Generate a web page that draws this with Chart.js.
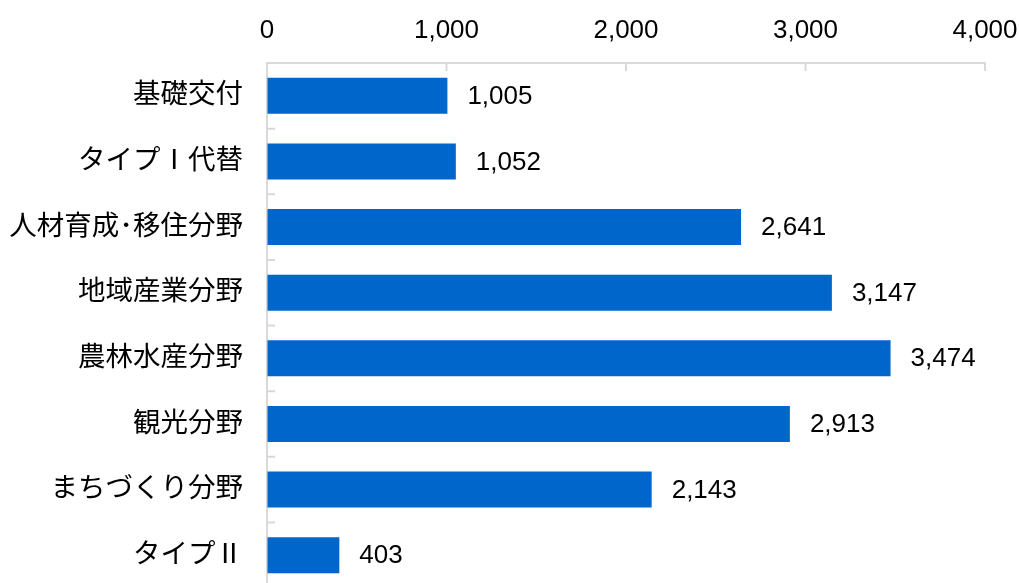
<!DOCTYPE html>
<html>
<head>
<meta charset="utf-8">
<script src="https://cdn.jsdelivr.net/npm/chart.js@4.4.1/dist/chart.umd.min.js"></script>
<style>
  html, body { margin: 0; padding: 0; background: #fff; overflow: hidden; }
  canvas { display: block; }
</style>
</head>
<body>
<canvas id="c" width="1019" height="588" style="width:1019px;height:588px"></canvas>
<script>
const categories = ["基礎交付", "タイプⅠ代替", "人材育成･移住分野", "地域産業分野", "農林水産分野", "観光分野", "まちづくり分野", "タイプⅡ"];
const values = [1005, 1052, 2641, 3147, 3474, 2913, 2143, 403];
const xTickMin = 0, xTickMax = 4000, xTickStep = 1000;

const FONT = '"Liberation Sans", Arial, "Noto Sans CJK JP", sans-serif';
const AXIS_COLOR = '#D9D9D9';
const fmt = v => v.toLocaleString('en-US');

const innerTicks = {
  id: 'innerTicks',
  afterDraw(chart) {
    const ctx = chart.ctx;
    const x = chart.scales.x, y = chart.scales.y;
    const area = chart.chartArea;
    ctx.save();
    ctx.strokeStyle = AXIS_COLOR;
    ctx.lineWidth = 2;
    ctx.beginPath();
    x.ticks.forEach((t, i) => {
      if (t.value === xTickMin) return;
      const px = x.getPixelForTick(i);
      ctx.moveTo(px, area.top);
      ctx.lineTo(px, area.top + 8);
    });
    const step = y.getPixelForValue(1) - y.getPixelForValue(0);
    for (let i = 0; i < categories.length; i++) {
      const py = y.getPixelForValue(i) + step / 2;
      ctx.moveTo(area.left, py);
      ctx.lineTo(area.left + 8, py);
    }
    ctx.stroke();
    ctx.fillStyle = '#000';
    ctx.font = '26px ' + FONT;
    ctx.textAlign = 'left';
    ctx.textBaseline = 'middle';
    const meta = chart.getDatasetMeta(0);
    meta.data.forEach((bar, i) => {
      ctx.fillText(fmt(values[i]), bar.x + 20, bar.y + 1);
    });
    ctx.restore();
  }
};

new Chart(document.getElementById('c'), {
  type: 'bar',
  data: {
    labels: categories,
    datasets: [{
      data: values,
      backgroundColor: '#0066CC',
      borderWidth: 0,
      categoryPercentage: 1,
      barPercentage: 0.55
    }]
  },
  options: {
    indexAxis: 'y',
    responsive: false,
    animation: false,
    layout: { padding: { left: 0, right: 34, top: 0, bottom: 0 } },
    plugins: { legend: { display: false }, tooltip: { enabled: false } },
    scales: {
      x: {
        position: 'top',
        min: xTickMin,
        max: xTickMax,
        ticks: {
          stepSize: xTickStep,
          color: '#000',
          font: { family: FONT, size: 26 },
          padding: 17,
          callback: v => fmt(v)
        },
        grid: { drawOnChartArea: false, drawTicks: false },
        border: { display: true, color: AXIS_COLOR, width: 2 },
        afterFit(s) { s.height = 63; s.paddingLeft = 0; s.paddingRight = 0; }
      },
      y: {
        ticks: {
          color: '#000',
          font: { family: FONT, size: 27.5 },
          padding: 24
        },
        grid: { drawOnChartArea: false, drawTicks: false },
        border: { display: true, color: AXIS_COLOR, width: 2 },
        afterFit(s) { s.width = 267; s.paddingTop = 0; s.paddingBottom = 0; }
      }
    }
  },
  plugins: [innerTicks]
});
</script>
</body>
</html>
